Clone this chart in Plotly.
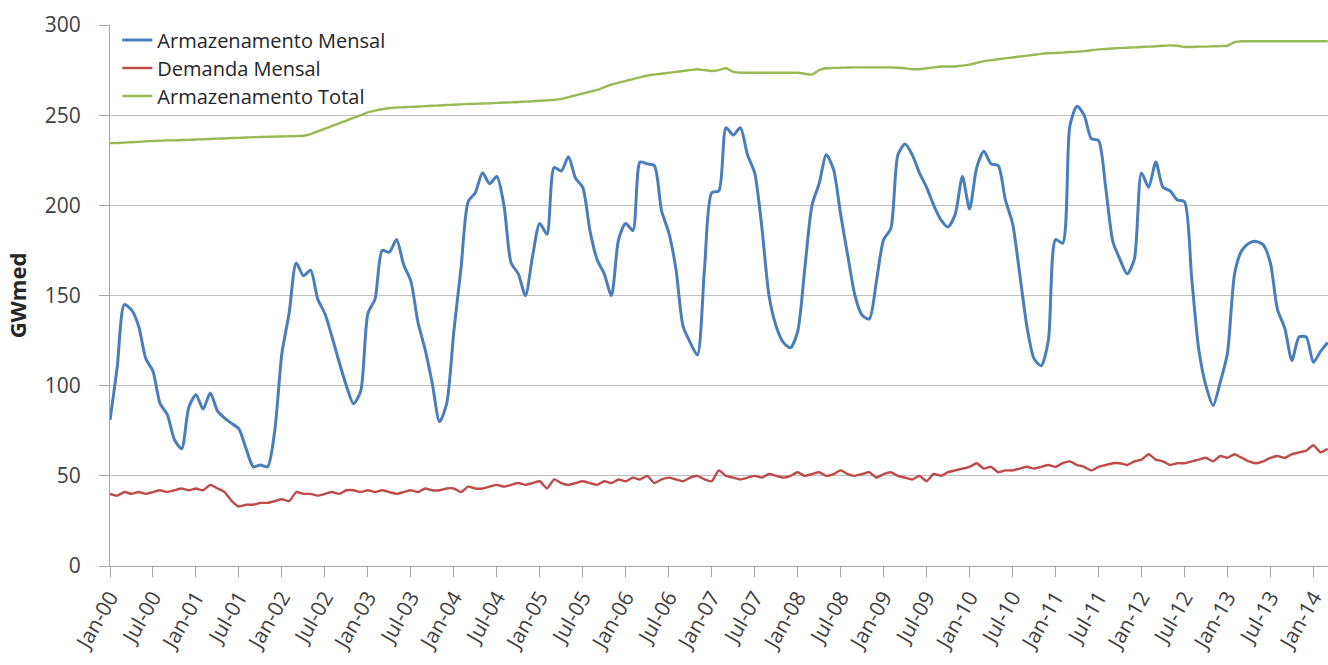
import plotly.graph_objects as go

# Month index 0 = Jan-00, one point per month
months = list(range(171))

armazenamento_mensal = [
    81, 110, 145, 142, 133, 115, 108, 90, 84, 70, 65, 88,
    95, 87, 96, 86, 82, 79, 76, 65, 55, 56, 55, 75,
    118, 140, 168, 161, 164, 148, 140, 127, 113, 100, 90, 97,
    140, 148, 175, 174, 181, 167, 158, 135, 120, 101, 80, 90,
    130, 165, 202, 207, 218, 212, 216, 200, 168, 162, 150, 172,
    190, 184, 221, 219, 227, 215, 210, 186, 170, 162, 150, 181,
    190, 186, 224, 223, 222, 197, 185, 165, 133, 124, 117, 165,
    207, 208, 243, 239, 243, 228, 218, 188, 150, 133, 124, 121,
    130, 165, 200, 212, 228, 220, 195, 172, 150, 139, 137, 158,
    181, 187, 228, 234, 228, 218, 210, 200, 192, 188, 195, 216,
    198, 221, 230, 223, 222, 203, 190, 162, 133, 115, 111, 125,
    181, 179, 244, 255, 250, 237, 236, 210, 180, 170, 162, 170,
    218, 210, 224, 210, 208, 203, 202, 160, 120, 100, 89, 102,
    118, 162, 175, 179, 180, 178, 168, 142, 132, 114, 127, 127,
    113, 119, 124,
]

demanda_mensal = [
    40, 39, 41, 40, 41, 40, 41, 42, 41, 42, 43, 42,
    43, 42, 45, 43, 41, 36, 33, 34, 34, 35, 35, 36,
    37, 36, 41, 40, 40, 39, 40, 41, 40, 42, 42, 41,
    42, 41, 42, 41, 40, 41, 42, 41, 43, 42, 42, 43,
    43, 41, 44, 43, 43, 44, 45, 44, 45, 46, 45, 46,
    47, 43, 48, 46, 45, 46, 47, 46, 45, 47, 46, 48,
    47, 49, 48, 50, 46, 48, 49, 48, 47, 49, 50, 48,
    47, 53, 50, 49, 48, 49, 50, 49, 51, 50, 49, 50,
    52, 50, 51, 52, 50, 51, 53, 51, 50, 51, 52, 49,
    51, 52, 50, 49, 48, 50, 47, 51, 50, 52, 53, 54,
    55, 57, 54, 55, 52, 53, 53, 54, 55, 54, 55, 56,
    55, 57, 58, 56, 55, 53, 55, 56, 57, 57, 56, 58,
    59, 62, 59, 58, 56, 57, 57, 58, 59, 60, 58, 61,
    60, 62, 60, 58, 57, 58, 60, 61, 60, 62, 63, 64,
    67, 63, 65,
]

armazenamento_total = [
    234.5, 234.5, 234.8, 235, 235.2, 235.5, 235.7, 235.8, 236, 236, 236.2, 236.3,
    236.5, 236.6, 236.8, 237, 237.1, 237.3, 237.4, 237.6, 237.8, 237.9, 238, 238.1,
    238.2, 238.3, 238.4, 238.6, 239.5, 241, 242.5, 244, 245.5, 247, 248.5, 250,
    251.5, 252.5, 253.3, 254, 254.2, 254.4, 254.6, 254.8, 255, 255.2, 255.4, 255.6,
    255.8, 256, 256.2, 256.3, 256.5, 256.6, 256.8, 257, 257.1, 257.3, 257.5, 257.7,
    258, 258.2, 258.5, 259, 260, 261, 262, 263, 264, 265.5, 267, 268,
    269, 270, 271, 272, 272.5, 273, 273.5, 274, 274.5, 275, 275.5, 275,
    274.5, 275, 276, 274, 273.5, 273.5, 273.5, 273.5, 273.5, 273.5, 273.5, 273.5,
    273.5, 273, 272.5, 275, 276, 276.2, 276.3, 276.4, 276.5, 276.5, 276.5, 276.5,
    276.5, 276.5, 276.3, 276, 275.5, 275.5, 276, 276.5, 277, 277, 277, 277.5,
    278, 279, 280, 280.5, 281, 281.5, 282, 282.5, 283, 283.5, 284, 284.3,
    284.5, 284.7, 285, 285.2, 285.5, 286, 286.5, 286.7, 287, 287.2, 287.4, 287.6,
    287.8, 288, 288.2, 288.5, 288.7, 288.5, 287.8, 287.8, 288, 288, 288.2, 288.3,
    288.5, 290.5, 291, 291, 291, 291, 291, 291, 291, 291, 291, 291,
    291, 291, 291,
]

tick_positions = [0, 6, 12, 18, 24, 30, 36, 42, 48, 54, 60, 66, 72, 78, 84,
                  90, 96, 102, 108, 114, 120, 126, 132, 138, 144, 150, 156, 162, 168]
tick_labels = ["Jan-00", "Jul-00", "Jan-01", "Jul-01", "Jan-02", "Jul-02", "Jan-03",
               "Jul-03", "Jan-04", "Jul-04", "Jan-05", "Jul-05", "Jan-06", "Jul-06",
               "Jan-07", "Jul-07", "Jan-08", "Jul-08", "Jan-09", "Jul-09", "Jan-10",
               "Jul-10", "Jan-11", "Jul-11", "Jan-12", "Jul-12", "Jan-13", "Jul-13",
               "Jan-14"]

FONT = "'Open Sans', 'Liberation Sans', sans-serif"
AXIS_GRAY = "#A6A6A6"

fig = go.Figure()
fig.add_trace(go.Scatter(x=months, y=armazenamento_mensal, mode="lines",
                         name="Armazenamento Mensal", legend="legend",
                         line=dict(color="#4A7EBB", width=3, shape="spline", smoothing=0.7)))
fig.add_trace(go.Scatter(x=months, y=demanda_mensal, mode="lines",
                         name="Demanda Mensal", legend="legend2",
                         line=dict(color="#BE4B48", width=2.4, shape="spline", smoothing=0.5)))
fig.add_trace(go.Scatter(x=months, y=armazenamento_total, mode="lines",
                         name="Armazenamento Total", legend="legend3",
                         line=dict(color="#98B954", width=2.4, shape="spline", smoothing=0.5)))

# One legend box per series so the rows can sit close together, Excel style
legend_style = dict(x=0.006, xanchor="left", yanchor="middle",
                    bgcolor="rgba(0,0,0,0)", font=dict(size=20, color="#262626"),
                    itemwidth=30)

fig.update_layout(
    width=1328, height=665,
    margin=dict(l=110, r=0, t=25, b=99),
    plot_bgcolor="white", paper_bgcolor="white",
    font=dict(family=FONT, color="#404040"),
    showlegend=True,
    legend=dict(y=0.9723, **legend_style),
    legend2=dict(y=0.9205, **legend_style),
    legend3=dict(y=0.8688, **legend_style),
)
fig.update_xaxes(
    range=[0, 170.04], tickmode="array", tickvals=tick_positions, ticktext=tick_labels,
    tickangle=-60, ticks="outside", ticklen=10, tickcolor=AXIS_GRAY,
    showline=True, linecolor=AXIS_GRAY, linewidth=1, showgrid=False, zeroline=False,
    tickfont=dict(size=21, color="#404040"),
)
fig.update_yaxes(
    range=[0, 300], dtick=50, ticks="outside", ticklen=10, tickcolor=AXIS_GRAY,
    ticklabelstandoff=14,
    showline=True, linecolor=AXIS_GRAY, linewidth=1,
    gridcolor="#BFBFBF", gridwidth=1, zeroline=False,
    tickfont=dict(size=21, color="#404040"),
    title=dict(text="<b>GWmed</b>", font=dict(size=22, color="#262626"), standoff=12),
)

fig.write_html("out.html")
